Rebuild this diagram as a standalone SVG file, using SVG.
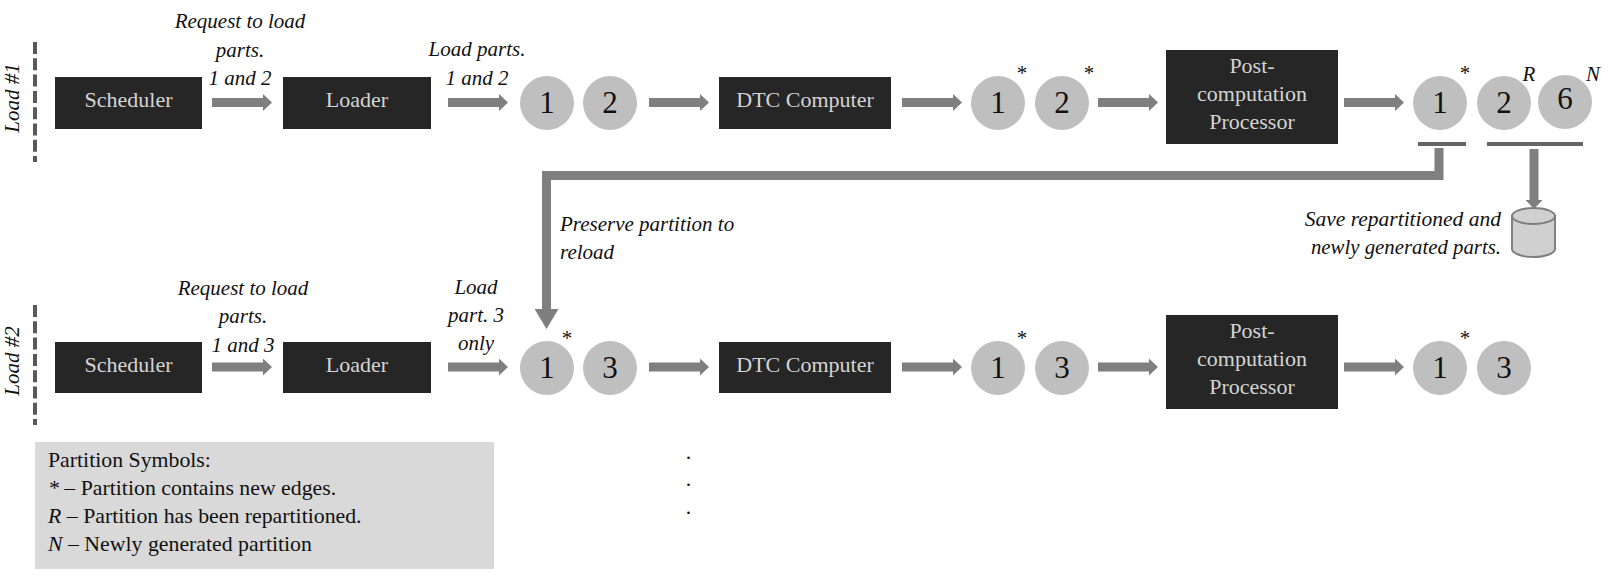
<svg xmlns="http://www.w3.org/2000/svg" width="1613" height="579" viewBox="0 0 1613 579">
<style>
text{font-family:"Liberation Serif","Times New Roman",serif}
.box{fill:#262626}
.bt{fill:#d4d4d4;font-size:22px;text-anchor:middle}
.c{fill:#bfbfbf}
.n{fill:#111;font-size:31px;text-anchor:middle}
.i{fill:#111;font-size:21px;font-style:italic}
.m{text-anchor:middle}
.e{text-anchor:end}
.mk{fill:#111;font-size:21px;font-style:italic;text-anchor:middle}
.a{stroke:#7f7f7f;stroke-width:9;fill:none}
.ar{marker-end:url(#h)}
.bar{fill:#666}
.dash{stroke:#595959;stroke-width:4;stroke-dasharray:12 4.3;fill:none}
.lg{fill:#111;font-size:21.800px}
</style>
<defs>
<marker id="h" markerUnits="userSpaceOnUse" viewBox="0 0 9 17" refX="0" refY="8.5" markerWidth="9" markerHeight="17" orient="auto"><path d="M0 0L9 8.500L0 17Z" fill="#7f7f7f"/></marker>
<marker id="hb" markerUnits="userSpaceOnUse" viewBox="0 0 20 24" refX="0" refY="12" markerWidth="20" markerHeight="24" orient="auto"><path d="M0 0L20 12L0 24Z" fill="#7f7f7f"/></marker>
</defs>
<rect width="1613" height="579" fill="#fff"/>
<g id="connectors">
<path class="a ar" d="M212 102.500H263"/>
<path class="a ar" d="M448 102.500H499"/>
<path class="a ar" d="M649 102.500H700"/>
<path class="a ar" d="M902 102.500H953"/>
<path class="a ar" d="M1098 102.500H1149"/>
<path class="a ar" d="M1344 102.500H1395"/>
<path class="a ar" d="M1534 149V200"/>
<path class="a" d="M1439 148V175.500H546.500V309" style="marker-end:url(#hb)"/>
<path class="a ar" d="M212 367H263"/>
<path class="a ar" d="M448 367H499"/>
<path class="a ar" d="M649 367H700"/>
<path class="a ar" d="M902 367H953"/>
<path class="a ar" d="M1098 367H1149"/>
<path class="a ar" d="M1344 367H1395"/>
</g>
<g id="load1-marker"><path class="dash" d="M35 42V162"/><text class="i" transform="translate(19 98) rotate(-90)" text-anchor="middle">Load #1</text></g>
<g id="load2-marker"><path class="dash" d="M35 305V425"/><text class="i" transform="translate(19 361) rotate(-90)" text-anchor="middle">Load #2</text></g>
<g id="scheduler1"><rect class="box" x="55" y="77" width="147" height="52"/><text class="bt" x="128.500" y="107">Scheduler</text></g>
<g id="loader1"><rect class="box" x="283" y="77" width="148" height="52"/><text class="bt" x="357" y="107">Loader</text></g>
<g id="label-request1"><text class="i m" x="240" y="28">Request to load</text><text class="i m" x="240" y="57">parts.</text><text class="i m" x="240" y="85">1 and 2</text></g>
<g id="label-load1"><text class="i m" x="477" y="56">Load parts.</text><text class="i m" x="477" y="85">1 and 2</text></g>
<g id="p1-1"><circle class="c" cx="547" cy="103" r="27"/><text class="n" x="547" y="113">1</text></g>
<g id="p1-2"><circle class="c" cx="610" cy="103" r="27"/><text class="n" x="610" y="113">2</text></g>
<g id="dtc1"><rect class="box" x="719" y="77" width="172" height="52"/><text class="bt" x="805" y="107">DTC Computer</text></g>
<g id="p1-1s"><circle class="c" cx="998" cy="103" r="27"/><text class="n" x="998" y="113">1</text><text class="mk" x="1021" y="80">*</text></g>
<g id="p1-2s"><circle class="c" cx="1062" cy="103" r="27"/><text class="n" x="1062" y="113">2</text><text class="mk" x="1088" y="80">*</text></g>
<g id="post1"><rect class="box" x="1166" y="50" width="172" height="94"/><text class="bt" x="1252" y="73">Post-</text><text class="bt" x="1252" y="101">computation</text><text class="bt" x="1252" y="129">Processor</text></g>
<g id="p1-1e"><circle class="c" cx="1440" cy="103" r="27"/><text class="n" x="1440" y="113">1</text><text class="mk" x="1464" y="80">*</text></g>
<g id="p1-2r"><circle class="c" cx="1504" cy="103" r="27"/><text class="n" x="1504" y="113">2</text><text class="mk" x="1529" y="81">R</text></g>
<g id="p1-6n"><circle class="c" cx="1565" cy="102" r="27"/><text class="n" x="1565" y="109">6</text><text class="mk" x="1593" y="81">N</text></g>
<g id="bars"><rect class="bar" x="1418" y="142" width="48" height="4"/><rect class="bar" x="1487" y="142" width="96" height="4"/></g>
<g id="store"><path d="M1512 216V249C1512 253 1521 257 1533.500 257C1546 257 1555 253 1555 249V216Z" fill="#d0d0d0" stroke="#7f7f7f" stroke-width="2"/><ellipse cx="1533.500" cy="216" rx="21.500" ry="8" fill="#d0d0d0" stroke="#7f7f7f" stroke-width="2"/></g>
<g id="label-save"><text class="i e" x="1501" y="226" style="font-size:21.500px">Save repartitioned and</text><text class="i e" x="1501" y="254" style="font-size:20.800px">newly generated parts.</text></g>
<g id="label-preserve"><text class="i" x="560" y="231">Preserve partition to</text><text class="i" x="560" y="259">reload</text></g>
<g id="scheduler2"><rect class="box" x="55" y="342" width="147" height="51"/><text class="bt" x="128.500" y="372">Scheduler</text></g>
<g id="loader2"><rect class="box" x="283" y="342" width="148" height="51"/><text class="bt" x="357" y="372">Loader</text></g>
<g id="label-request2"><text class="i m" x="243" y="295">Request to load</text><text class="i m" x="243" y="323">parts.</text><text class="i m" x="243" y="352">1 and 3</text></g>
<g id="label-load2"><text class="i m" x="476" y="294">Load</text><text class="i m" x="476" y="322">part. 3</text><text class="i m" x="476" y="350">only</text></g>
<g id="p2-1s"><circle class="c" cx="547" cy="368" r="27"/><text class="n" x="547" y="378">1</text><text class="mk" x="566" y="345">*</text></g>
<g id="p2-3"><circle class="c" cx="610" cy="368" r="27"/><text class="n" x="610" y="378">3</text></g>
<g id="dtc2"><rect class="box" x="719" y="342" width="172" height="51"/><text class="bt" x="805" y="372">DTC Computer</text></g>
<g id="p2-1t"><circle class="c" cx="998" cy="368" r="27"/><text class="n" x="998" y="378">1</text><text class="mk" x="1021" y="345">*</text></g>
<g id="p2-3t"><circle class="c" cx="1062" cy="368" r="27"/><text class="n" x="1062" y="378">3</text></g>
<g id="post2"><rect class="box" x="1166" y="315" width="172" height="94"/><text class="bt" x="1252" y="338">Post-</text><text class="bt" x="1252" y="366">computation</text><text class="bt" x="1252" y="394">Processor</text></g>
<g id="p2-1e"><circle class="c" cx="1440" cy="368" r="27"/><text class="n" x="1440" y="378">1</text><text class="mk" x="1464" y="345">*</text></g>
<g id="p2-3e"><circle class="c" cx="1504" cy="368" r="27"/><text class="n" x="1504" y="378">3</text></g>
<g id="legend"><rect x="35" y="442" width="459" height="127" fill="#d9d9d9"/>
<text class="lg" x="48" y="467">Partition Symbols:</text>
<text class="lg" x="48" y="495"><tspan font-style="italic">*</tspan> – Partition contains new edges.</text>
<text class="lg" x="48" y="523"><tspan font-style="italic">R</tspan> – Partition has been repartitioned.</text>
<text class="lg" x="48" y="551"><tspan font-style="italic">N</tspan> – Newly generated partition</text></g>
<g id="ellipsis"><text class="lg m" x="688.500" y="459">.</text><text class="lg m" x="688.500" y="486">.</text><text class="lg m" x="688.500" y="514">.</text></g>
</svg>
